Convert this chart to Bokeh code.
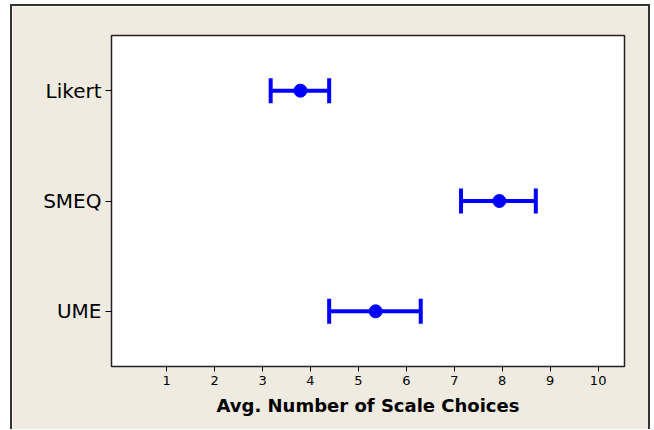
from bokeh.plotting import figure
from bokeh.models import Range1d, FactorRange, FixedTicker, ColumnDataSource
from bokeh.embed import file_html
from bokeh.resources import INLINE

categories = ["Likert", "SMEQ", "UME"]
means = [3.79, 7.94, 5.36]
lower = [3.17, 7.14, 4.39]
upper = [4.39, 8.70, 6.30]
x_ticks = [1, 2, 3, 4, 5, 6, 7, 8, 9, 10]
x_title = "Avg. Number of Scale Choices"

src = ColumnDataSource(dict(cat=categories, mean=means, lo=lower, hi=upper))

BG = "#EFEBE0"
BLUE = "#0000FF"
FONT = "DejaVu Sans"

p = figure(width=640, height=425, output_backend="svg", toolbar_location=None,
           x_range=Range1d(-0.15, 10.55),
           y_range=FactorRange(*reversed(categories), range_padding=0),
           min_border_left=99, min_border_right=28, min_border_top=29,
           min_border_bottom=65)
p.margin = (4, 0, 0, 10)
p.styles = {"border-left": "2px solid #333", "border-top": "2px solid #333",
            "border-right": "2px solid #333"}

p.border_fill_color = BG
p.background_fill_color = "white"
p.outline_line_color = "#222222"
p.outline_line_width = 1.5
p.grid.visible = False

p.xaxis.ticker = FixedTicker(ticks=x_ticks)
p.xaxis.minor_tick_line_color = None
p.xaxis.major_tick_out = 5
p.xaxis.major_tick_in = 0
p.xaxis.major_label_text_font = FONT
p.xaxis.major_label_text_font_size = "13px"
p.xaxis.major_label_text_color = "black"
p.xaxis.major_label_standoff = 4
p.xaxis.axis_label = x_title
p.xaxis.axis_label_text_font = FONT
p.xaxis.axis_label_text_font_style = "bold"
p.xaxis.axis_label_text_font_size = "18px"
p.xaxis.axis_label_text_color = "black"
p.xaxis.axis_label_standoff = 7
p.xaxis.axis_line_color = "#222222"

p.yaxis.major_tick_out = 6
p.yaxis.major_tick_in = 0
p.yaxis.major_label_text_font = FONT
p.yaxis.major_label_text_font_size = "20px"
p.yaxis.major_label_text_color = "black"
p.yaxis.major_label_standoff = 4
p.yaxis.axis_line_color = "#222222"

p.segment(x0="lo", x1="hi", y0="cat", y1="cat", source=src,
          line_color=BLUE, line_width=4)
p.rect(x="lo", y="cat", width=4, height=25, width_units="screen",
       height_units="screen", source=src, fill_color=BLUE, line_color=None)
p.rect(x="hi", y="cat", width=4, height=25, width_units="screen",
       height_units="screen", source=src, fill_color=BLUE, line_color=None)
p.scatter(x="mean", y="cat", source=src, size=13, fill_color=BLUE,
          line_color=BLUE)

open("out.html", "w").write(file_html(p, INLINE))
